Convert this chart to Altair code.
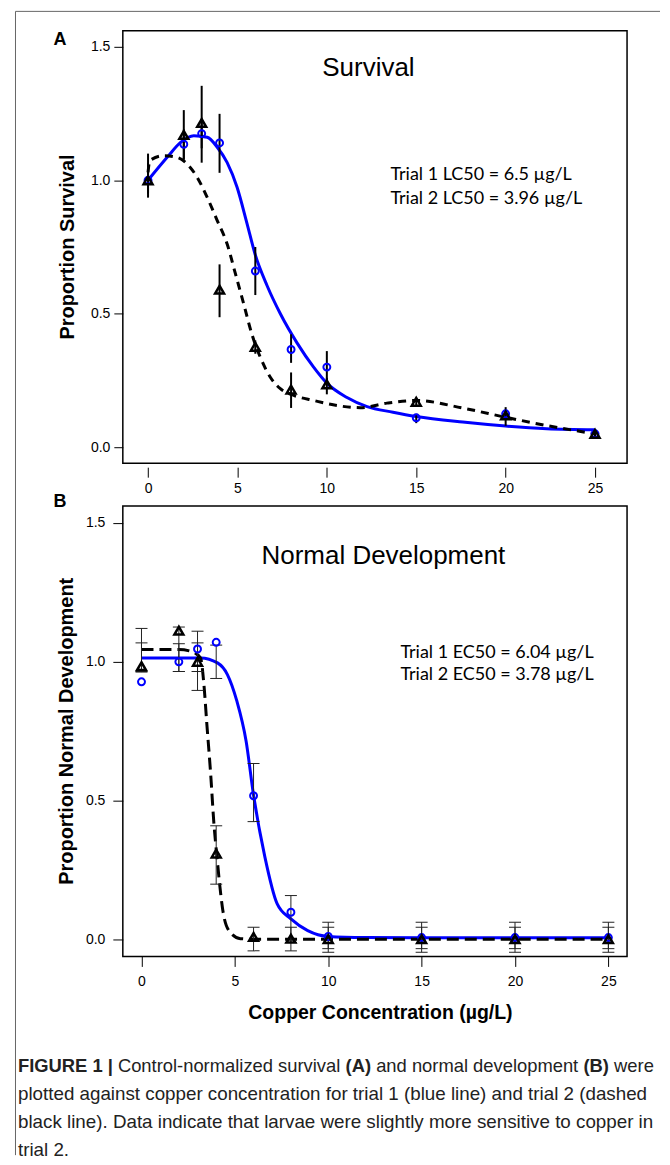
import altair as alt
import pandas as pd

# ---------------- data ----------------
conc = [0, 2, 3, 4, 6, 8, 10, 15, 20, 25]

# Panel A - survival (trial 1 = blue circles, trial 2 = black triangles)
surv_t1 = [1.00, 1.135, 1.175, 1.14, 0.66, 0.366, 0.30, 0.11, 0.125, 0.05]
surv_t1_lo = [0.95, 1.08, 1.12, 1.028, 0.57, 0.316, 0.24, 0.09, 0.11, 0.04]
surv_t1_hi = [1.10, 1.19, 1.23, 1.249, 0.75, 0.423, 0.36, 0.125, 0.14, 0.06]
surv_t2 = [1.00, 1.17, 1.215, 0.59, 0.376, 0.216, 0.235, 0.17, 0.119, 0.05]
surv_t2_lo = [0.935, 1.072, 1.066, 0.487, 0.35, 0.147, 0.198, 0.155, 0.08, 0.04]
surv_t2_hi = [1.065, 1.263, 1.354, 0.685, 0.40, 0.28, 0.26, 0.185, 0.15, 0.06]

fitA1_x = [0, 1.07, 1.82, 2.56, 3.31, 3.87, 4.42, 4.98, 5.54, 6.0, 6.66, 7.4, 8.34,
           9.26, 10.0, 11.1, 12.25, 13.7, 15, 17.6, 20, 22.3, 25]
fitA1_y = [1.0, 1.086, 1.142, 1.167, 1.161, 1.124, 1.067, 0.974, 0.837, 0.72, 0.605,
           0.50, 0.39, 0.30, 0.24, 0.187, 0.152, 0.131, 0.115, 0.094, 0.079, 0.069, 0.065]
fitA2_x = [0, 0.1, 0.88, 1.63, 2.19, 2.75, 3.31, 3.87, 4.42, 4.89, 5.35, 5.8, 6.28, 6.84,
           7.4, 8.15, 9.26, 10.57, 11.87, 13.36, 15, 17.64, 20, 22.3, 25]
fitA2_y = [1.03, 1.074, 1.092, 1.086, 1.061, 1.011, 0.936, 0.849, 0.762, 0.649, 0.537,
           0.425, 0.337, 0.262, 0.219, 0.194, 0.175, 0.156, 0.148, 0.165, 0.175, 0.146,
           0.112, 0.081, 0.05]

# Panel B - normal development
dev_t1 = [0.928, 1.0, 1.046, 1.07, 0.518, 0.099, 0.012, 0.008, 0.008, 0.008]
dev_t1_lo = [0.965, 0.965, 0.965, 0.94, 0.425, -0.01, -0.045, -0.045, -0.045, -0.045]
dev_t1_hi = [1.068, 1.065, 1.068, 1.06, 0.634, 0.159, 0.063, 0.063, 0.063, 0.063]
dev_t2 = [0.984, 1.112, 1.0, 0.31, 0.01, 0.004, 0.002, 0.002, 0.002, 0.002]
dev_t2_lo = [0.963, 0.965, 0.897, 0.20, -0.04, -0.04, -0.032, -0.032, -0.032, -0.032]
dev_t2_hi = [1.12, 1.125, 1.11, 0.41, 0.045, 0.045, 0.045, 0.045, 0.045, 0.045]

fitB1_x = [0, 1, 2, 3.16, 4.07, 4.6, 5.1, 5.6, 6.0, 6.6, 7.26, 8.0, 8.9, 10, 12, 15, 20, 25]
fitB1_y = [1.014, 1.014, 1.014, 1.014, 0.996, 0.954, 0.86, 0.715, 0.52, 0.30, 0.13,
           0.075, 0.033, 0.012, 0.008, 0.007, 0.007, 0.007]
fitB2_x = [0, 1, 2, 2.63, 3.16, 3.34, 3.5, 3.7, 3.88, 4.06, 4.2, 4.33, 4.68, 5.3, 6, 8,
           10, 15, 20, 25]
fitB2_y = [1.044, 1.044, 1.044, 1.038, 1.014, 0.92, 0.775, 0.6, 0.416, 0.285, 0.19,
           0.117, 0.033, 0.004, 0.002, 0.002, 0.002, 0.002, 0.002, 0.002]

x_ticks = [0, 5, 10, 15, 20, 25]
y_ticks = [0.0, 0.5, 1.0, 1.5]

titleA = "Survival"
titleB = "Normal Development"
ylabA = "Proportion Survival"
ylabB = "Proportion Normal Development"
xlab = "Copper Concentration (\u00b5g/L)"
noteA = ["Trial 1 LC50 = 6.5 \u00b5g/L", "Trial 2 LC50 = 3.96 \u00b5g/L"]
noteB = ["Trial 1 EC50 = 6.04 \u00b5g/L", "Trial 2 EC50 = 3.78 \u00b5g/L"]
caption = [
    [("FIGURE 1 |", True), ("Control-normalized survival", False), ("(A)", True),
     ("and normal development", False), ("(B)", True), ("were", False)],
    [("plotted against copper concentration for trial 1 (blue line) and trial 2 (dashed", False)],
    [("black line). Data indicate that larvae were slightly more sensitive to copper in", False)],
    [("trial 2.", False)],
]

# ---------------- layout (page pixels) ----------------
AX0, AY0 = 122, 29      # panel A plot origin
BX0, BY0 = 122, 505     # panel B plot origin
W, HA, HB = 505, 433, 451
SANS = "Liberation Sans"
BLUE = "#0000ff"
CAP_X0 = 17
cap_y = [1066, 1094, 1122, 1150]
cap_size = [18.4, 18.8, 18.8, 18.8]

# approximate Arial / Liberation Sans advance widths (per 1000 em) used to chain
# the bold and regular caption pieces on one line
_REG = dict(zip("abcdefghijklmnopqrstuvwxyz",
                [556, 556, 500, 556, 556, 278, 556, 556, 222, 222, 500, 222, 833, 556, 556,
                 556, 556, 333, 500, 278, 556, 500, 722, 500, 500, 500]))
_BOLD = dict(zip("abcdefghijklmnopqrstuvwxyz",
                 [556, 611, 556, 611, 556, 333, 611, 611, 278, 278, 556, 278, 889, 611, 611,
                  611, 611, 389, 556, 333, 611, 556, 778, 556, 556, 500]))
_UP = {"A": 722, "B": 722, "C": 722, "E": 667, "F": 611, "G": 778, "I": 278, "R": 722,
       "U": 722}
_MISC = {" ": 278, "-": 333, "(": 333, ")": 333, "|": 270, ".": 278, "1": 556}


def text_width(s, size, bold):
    tab = _BOLD if bold else _REG
    return sum(tab.get(c, _UP.get(c, _MISC.get(c, 556))) for c in s) * size / 1000.0


def pts(xs, ys, lo=None, hi=None):
    d = pd.DataFrame({"x": xs, "y": ys})
    if lo is not None:
        d["lo"] = lo
        d["hi"] = hi
    return d


def txt(s, px, py, **kw):
    return alt.Chart(pd.DataFrame({"t": [s]})).mark_text(**kw).encode(
        text="t:N", x=alt.value(px), y=alt.value(py))


def panel(xsc, xax, yax, d1, d2, f1, f2, dash, capped):
    ysc = alt.Scale(domain=[-0.06, 1.56], nice=False, zero=False)
    X = lambda f: alt.X(f, type="quantitative", scale=xsc, axis=xax)
    Y = lambda f: alt.Y(f, type="quantitative", scale=ysc, axis=yax)
    layers = []
    layers.append(alt.Chart(f1).mark_line(color=BLUE, strokeWidth=3, interpolate="monotone")
                  .encode(x=X("x"), y=Y("y")))
    layers.append(alt.Chart(f2).mark_line(color="black", strokeWidth=3, strokeDash=dash,
                                          interpolate="monotone")
                  .encode(x=X("x"), y=Y("y")))
    for d in (d1, d2):
        if capped:
            layers.append(alt.Chart(d).mark_rule(color="#222", strokeWidth=1)
                          .encode(x=X("x"), y=Y("lo"), y2="hi"))
            for f in ("lo", "hi"):
                layers.append(alt.Chart(d).mark_tick(orient="horizontal", size=12, thickness=1,
                                                     color="#222", opacity=1)
                              .encode(x=X("x"), y=Y(f)))
        else:
            layers.append(alt.Chart(d).mark_rule(color="black", strokeWidth=2)
                          .encode(x=X("x"), y=Y("lo"), y2="hi"))
    layers.append(alt.Chart(d1).mark_point(shape="circle", filled=False, color=BLUE,
                                           strokeWidth=2, size=48, opacity=1)
                  .encode(x=X("x"), y=Y("y")))
    layers.append(alt.Chart(d2).mark_point(shape="triangle-up", filled=False, color="black",
                                           strokeWidth=2.5, size=80, opacity=1)
                  .encode(x=X("x"), y=Y("y")))
    return layers


xaxA = alt.Axis(values=x_ticks, title=None, grid=False, domain=False, tickSize=10, offset=4,
                labelPadding=4, labelFontSize=14, labelFont=SANS, labelColor="black",
                tickColor="black", labelFlush=False)
xaxB = alt.Axis(values=x_ticks, title=None, grid=False, domain=False, tickSize=10,
                labelPadding=8, labelFontSize=14, labelFont=SANS, labelColor="black",
                tickColor="black", labelFlush=False)
yaxA = alt.Axis(values=y_ticks, format=".1f", title=None, grid=False, domain=False,
                tickSize=9, labelPadding=4, labelFontSize=14, labelFont=SANS,
                labelColor="black", tickColor="black", labelFlush=False)
yaxB = alt.Axis(values=y_ticks, format=".1f", title=None, grid=False, domain=False,
                tickSize=10, labelPadding=8, labelFontSize=14, labelFont=SANS,
                labelColor="black", tickColor="black", labelFlush=False)

layersA = panel(alt.Scale(domain=[-1.41, 26.79], nice=False, zero=False), xaxA, yaxA,
                pts(conc, surv_t1, surv_t1_lo, surv_t1_hi),
                pts(conc, surv_t2, surv_t2_lo, surv_t2_hi),
                pts(fitA1_x, fitA1_y), pts(fitA2_x, fitA2_y), [8, 6], False)
layersB = panel(alt.Scale(domain=[-1, 26], nice=False, zero=False), xaxB, yaxB,
                pts(conc, dev_t1, dev_t1_lo, dev_t1_hi),
                pts(conc, dev_t2, dev_t2_lo, dev_t2_hi),
                pts(fitB1_x, fitB1_y), pts(fitB2_x, fitB2_y), [12, 6], True)

# outer frame of the figure (top and left rules), drawn from panel A
frame = pd.DataFrame({"k": [0]})
layersA.append(alt.Chart(frame).mark_rule(color="#666", strokeWidth=1).encode(
    x=alt.value(14.5 - AX0), x2=alt.value(660 - AX0), y=alt.value(9.5 - AY0)))
layersA.append(alt.Chart(frame).mark_rule(color="#666", strokeWidth=1).encode(
    x=alt.value(14.5 - AX0), y=alt.value(9.5 - AY0), y2=alt.value(1155 - AY0)))

# panel A texts
layersA.append(txt("A", 59 - AX0, 38 - AY0, font=SANS, fontSize=18, fontWeight="bold"))
layersA.append(txt(ylabA, 67 - AX0, HA / 2, font=SANS, fontSize=20, fontWeight="bold",
                   angle=270, baseline="middle"))
layersA.append(txt(titleA, 368 - AX0, 66 - AY0, font=SANS, fontSize=26))
for i, s in enumerate(noteA):
    layersA.append(txt(s, 390 - AX0, 173 + 24 * i - AY0, font="Lato", fontSize=18,
                       align="left", baseline="middle"))

# panel B texts
layersB.append(txt("B", 59 - BX0, 501 - BY0, font=SANS, fontSize=18, fontWeight="bold"))
layersB.append(txt(ylabB, 66 - BX0, HB / 2, font=SANS, fontSize=20, fontWeight="bold",
                   angle=270, baseline="middle"))
layersB.append(txt(titleB, 383 - BX0, 555 - BY0, font=SANS, fontSize=26))
for i, s in enumerate(noteB):
    layersB.append(txt(s, 400 - BX0, 652 + 22 * i - BY0, font="Lato", fontSize=18,
                       align="left", baseline="middle"))
layersB.append(txt(xlab, 380 - BX0, 1013 - BY0, font=SANS, fontSize=19.5, fontWeight="bold"))

# caption: pieces chained left to right on each line
for li, line in enumerate(caption):
    x = CAP_X0
    size = cap_size[li]
    for s, bold in line:
        layersB.append(txt(s, x - BX0, cap_y[li] - BY0, font=SANS, fontSize=size,
                           fontWeight="bold" if bold else "normal", align="left",
                           baseline="middle", color="#222"))
        x += text_width(s + " ", size, bold)

chartA = alt.layer(*layersA).properties(width=W, height=HA)
chartB = alt.layer(*layersB).properties(width=W, height=HB)

chart = alt.VConcatChart(
    vconcat=[chartA, chartB], spacing=BY0 - AY0 - HA, bounds="flush"
).properties(
    padding={"left": 6, "top": 1, "right": 0, "bottom": 0}
).configure_view(stroke="black", strokeWidth=1.5)

chart.save("out.html", embed_options={"renderer": "svg", "actions": False})
